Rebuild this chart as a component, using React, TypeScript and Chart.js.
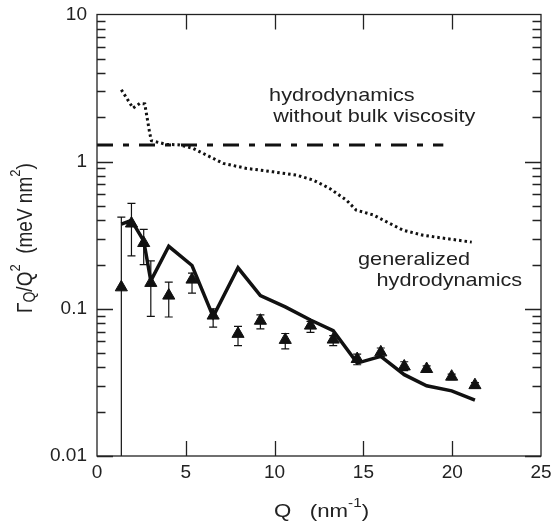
import React, { useEffect, useRef } from 'react';
import { Chart, registerables } from 'chart.js';

Chart.register(...registerables);

// ---- data ----
const qMeas = [1.37, 1.94, 2.63, 3.03, 4.04, 5.35, 6.54, 7.94, 9.2, 10.6, 12.02, 13.3, 14.65, 15.98, 17.3, 18.56, 19.97, 21.28];
const gammaMeas = [0.14, 0.38, 0.28, 0.15, 0.123, 0.158, 0.09, 0.0676, 0.083, 0.0615, 0.0769, 0.0618, 0.0456, 0.0506, 0.0406, 0.039, 0.0346, 0.0303];
const errLow = [0.001, 0.229, 0.2, 0.089, 0.088, 0.128, 0.075, 0.0562, 0.073, 0.0534, 0.0692, 0.0562, 0.0417, 0.0473, 0.038, 0.037, 0.033, 0.029];
const errHigh = [0.42, 0.52, 0.347, 0.212, 0.152, 0.175, 0.1, 0.076, 0.091, 0.068, 0.0823, 0.0658, 0.0493, 0.0542, 0.0437, 0.041, 0.036, 0.0315];

const qSolid = [1.37, 1.94, 2.63, 3.03, 4.04, 5.35, 6.54, 7.94, 9.2, 10.6, 12.02, 13.3, 14.65, 15.98, 17.3, 18.56, 19.97, 21.28];
const gSolid = [0.376, 0.399, 0.29, 0.155, 0.266, 0.197, 0.0886, 0.19, 0.123, 0.103, 0.084, 0.071, 0.0428, 0.0475, 0.0357, 0.03, 0.0277, 0.024];

const qDotted = [1.37, 2.03, 2.41, 2.69, 2.78, 2.97, 3.06, 3.91, 4.66, 5.41, 6.16, 7.1, 8.42, 9.92, 11.23, 12.17, 13.1, 14.05, 14.6, 15.55, 16.49, 17.24, 18.37, 19.68, 21.1];
const gDotted = [3.08, 2.31, 2.49, 2.47, 2.13, 1.56, 1.39, 1.31, 1.3, 1.23, 1.11, 0.974, 0.9, 0.853, 0.81, 0.75, 0.658, 0.547, 0.468, 0.435, 0.38, 0.342, 0.316, 0.3, 0.284];

const qBulk = [0, 19.5];
const gBulk = [1.3, 1.3];

const xTickValues = [0, 5, 10, 15, 20, 25];
const yTickValues = [0.01, 0.1, 1, 10];
const yTickLabels = ['0.01', '0.1', '1', '10'];

const FONT = '"Liberation Sans", Arial, Helvetica, sans-serif';
const INK = '#222';

type Run = { t: string; size: number; dy?: number };

function drawRuns(ctx: CanvasRenderingContext2D, runs: Run[], along: number, cross: number) {
  let cx = 0;
  for (const r of runs) {
    ctx.font = `${r.size}px ${FONT}`;
    ctx.save();
    ctx.translate(cx, r.dy || 0);
    ctx.scale(along, cross);
    ctx.fillText(r.t, 0, 0);
    ctx.restore();
    cx += ctx.measureText(r.t).width * along;
  }
}

const annotations: { lines: string; q: number; g: number }[] = [
  { lines: 'hydrodynamics', q: 9.69, g: 2.59 },
  { lines: 'without bulk viscosity', q: 9.92, g: 1.86 },
  { lines: 'generalized', q: 14.7, g: 0.197 },
  { lines: 'hydrodynamics', q: 15.74, g: 0.142 },
];

const framePlugin = {
  id: 'frameAndText',
  beforeDatasetsDraw(chart: any) {
    const { ctx, chartArea, scales } = chart;
    const x = scales.x, y = scales.y;
    ctx.save();
    ctx.beginPath();
    ctx.rect(chartArea.left, chartArea.top, chartArea.right - chartArea.left, chartArea.bottom - chartArea.top);
    ctx.clip();
    ctx.strokeStyle = '#111';
    ctx.lineWidth = 1.2;
    for (let i = 0; i < qMeas.length; i++) {
      const px = x.getPixelForValue(qMeas[i]);
      const pHi = y.getPixelForValue(errHigh[i]);
      const pLo = y.getPixelForValue(errLow[i]);
      ctx.beginPath();
      ctx.moveTo(px, pHi);
      ctx.lineTo(px, pLo);
      ctx.moveTo(px - 4, pHi);
      ctx.lineTo(px + 4, pHi);
      ctx.moveTo(px - 4, pLo);
      ctx.lineTo(px + 4, pLo);
      ctx.stroke();
    }
    ctx.restore();
  },
  afterDraw(chart: any) {
    const { ctx, chartArea, scales } = chart;
    const { left, right, top, bottom } = chartArea;
    const x = scales.x, y = scales.y;
    ctx.save();
    ctx.strokeStyle = INK;
    ctx.lineWidth = 1.3;
    ctx.strokeRect(left, top, right - left, bottom - top);
    ctx.beginPath();
    for (const v of xTickValues) {
      if (v === 0 || v === 25) continue;
      const px = Math.round(x.getPixelForValue(v)) + 0.5;
      ctx.moveTo(px, bottom);
      ctx.lineTo(px, bottom - 15);
      ctx.moveTo(px, top);
      ctx.lineTo(px, top + 15);
    }
    for (const d of [0.01, 0.1, 1]) {
      for (let m = 1; m <= 9; m++) {
        const py = Math.round(y.getPixelForValue(d * m)) + 0.5;
        const len = m === 1 ? 16 : 8.5;
        ctx.moveTo(left, py);
        ctx.lineTo(left + len, py);
        ctx.moveTo(right, py);
        ctx.lineTo(right - len, py);
      }
    }
    ctx.stroke();

    ctx.fillStyle = INK;
    ctx.textBaseline = 'alphabetic';
    // annotations
    for (const a of annotations) {
      ctx.save();
      ctx.translate(x.getPixelForValue(a.q), y.getPixelForValue(a.g));
      drawRuns(ctx, [{ t: a.lines, size: 18.5 }], 1.17, 1);
      ctx.restore();
    }
    // x title
    ctx.save();
    ctx.translate(274, 517);
    drawRuns(ctx, [{ t: 'Q   (nm', size: 19 }, { t: '-1', size: 13, dy: -10 }, { t: ')', size: 19 }], 1.17, 1);
    ctx.restore();
    // y title
    ctx.save();
    ctx.translate(31.5, 313);
    ctx.rotate(-Math.PI / 2);
    drawRuns(
      ctx,
      [
        { t: 'Γ', size: 19 },
        { t: 'Q', size: 14, dy: 3 },
        { t: '/Q', size: 19 },
        { t: '2', size: 13, dy: -12 },
        { t: '  (meV nm', size: 19 },
        { t: '2', size: 13, dy: -12 },
        { t: ')', size: 19 },
      ],
      1,
      1.17
    );
    ctx.restore();
    ctx.restore();
  },
};

export default function App() {
  const ref = useRef<HTMLCanvasElement>(null);
  useEffect(() => {
    const chart = new Chart(ref.current as HTMLCanvasElement, {
      type: 'scatter',
      data: {
        datasets: [
          {
            label: 'measured',
            data: qMeas.map((q, i) => ({ x: q, y: gammaMeas[i] })),
            pointStyle: 'triangle',
            pointRadius: 7,
            backgroundColor: '#111',
            borderColor: '#111',
            borderWidth: 1,
            showLine: false,
          },
          {
            label: 'solid',
            data: qSolid.map((q, i) => ({ x: q, y: gSolid[i] })),
            showLine: true,
            borderColor: '#111',
            borderWidth: 3.5,
            pointRadius: 0,
            borderJoinStyle: 'miter',
          },
          {
            label: 'generalized hydrodynamics',
            data: qDotted.map((q, i) => ({ x: q, y: gDotted[i] })),
            showLine: true,
            borderColor: '#111',
            borderWidth: 3,
            borderDash: [2.5, 3],
            pointRadius: 0,
          },
          {
            label: 'hydrodynamics without bulk viscosity',
            data: qBulk.map((q, i) => ({ x: q, y: gBulk[i] })),
            showLine: true,
            borderColor: '#111',
            borderWidth: 3,
            borderDash: [16, 10, 6, 10],
            pointRadius: 0,
          },
        ],
      },
      options: {
        animation: false,
        responsive: true,
        maintainAspectRatio: false,
        layout: { padding: { top: 14.5, right: 10, left: 0, bottom: 0 } },
        plugins: { legend: { display: false }, tooltip: { enabled: false } },
        scales: {
          x: {
            type: 'linear',
            min: 0,
            max: 25,
            afterBuildTicks: (s: any) => {
              s.ticks = xTickValues.map((v) => ({ value: v }));
            },
            ticks: {
              padding: 5,
              color: INK,
              font: { size: 19, family: FONT },
              maxRotation: 0,
              callback: (v: any) => String(v),
            },
            grid: { display: false, drawTicks: false },
            border: { display: false },
            afterFit: (s: any) => {
              s.height = 71;
              s.paddingLeft = 0;
              s.paddingRight = 0;
            },
          },
          y: {
            type: 'logarithmic',
            min: 0.01,
            max: 10,
            afterBuildTicks: (s: any) => {
              s.ticks = yTickValues.map((v) => ({ value: v }));
            },
            ticks: {
              padding: 10,
              color: INK,
              font: { size: 19, family: FONT },
              callback: (v: any) => {
                const i = yTickValues.indexOf(v);
                return i >= 0 ? yTickLabels[i] : '';
              },
            },
            grid: { display: false, drawTicks: false },
            border: { display: false },
            afterFit: (s: any) => {
              s.width = 97;
              s.paddingTop = 0;
              s.paddingBottom = 0;
            },
          },
        },
      },
      plugins: [framePlugin],
    } as any);
    return () => chart.destroy();
  }, []);
  return (
    <div style={{ position: 'absolute', left: 0, top: 0, width: 551, height: 527, background: '#fff' }}>
      <canvas ref={ref} />
    </div>
  );
}
